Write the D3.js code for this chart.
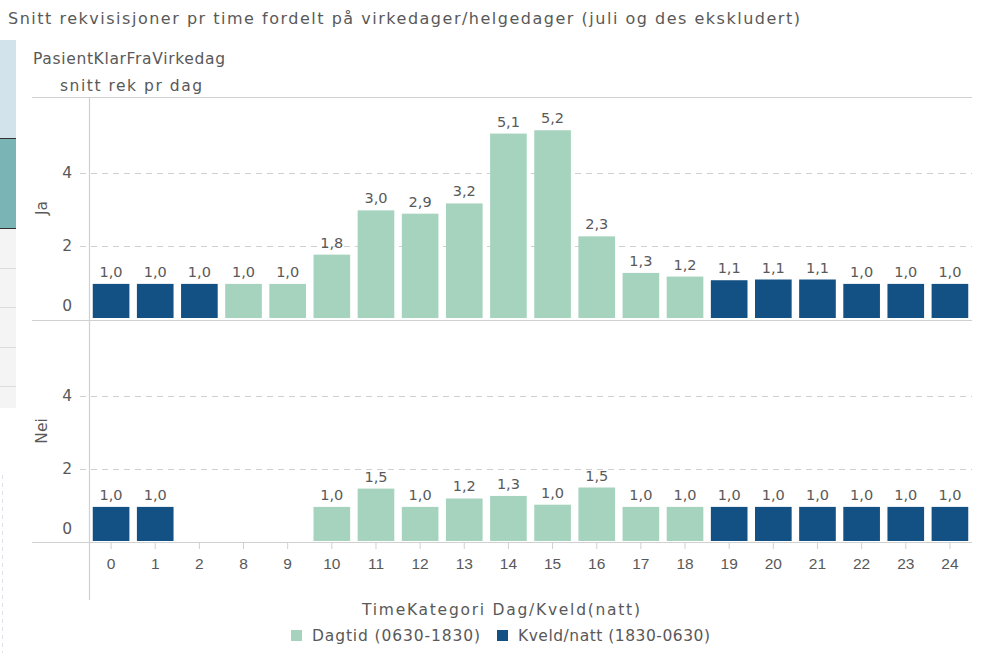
<!DOCTYPE html>
<html>
<head>
<meta charset="utf-8">
<script src="https://cdn.jsdelivr.net/npm/d3@7"></script>
<style>
  html, body { margin: 0; padding: 0; background: #fff; }
  svg { display: block; font-family: "DejaVu Sans", "Open Sans", sans-serif; }
</style>
</head>
<body>
<svg id="chart" width="983" height="653"></svg>
<script>
// hours shown on the x axis (3-7 missing in source)
const hours = ["0", "1", "2", "8", "9", "10", "11", "12", "13", "14", "15", "16", "17", "18", "19", "20", "21", "22", "23", "24"];
// category per hour: "dag" = Dagtid, "kveld" = Kveld/natt
const hourCategory = ["kveld", "kveld", "kveld", "dag", "dag", "dag", "dag", "dag", "dag", "dag", "dag", "dag", "dag", "dag", "kveld", "kveld", "kveld", "kveld", "kveld", "kveld"];

// snitt rek pr dag, PasientKlarFraVirkedag = Ja
const valuesJa = [0.96, 0.96, 0.96, 0.96, 0.96, 1.76, 2.97, 2.88, 3.16, 5.07, 5.16, 2.26, 1.26, 1.16, 1.06, 1.08, 1.08, 0.96, 0.96, 0.96];
// PasientKlarFraVirkedag = Nei (null = no data)
const valuesNei = [0.96, 0.96, null, null, null, 0.96, 1.46, 0.96, 1.19, 1.26, 1.02, 1.49, 0.96, 0.96, 0.96, 0.96, 0.96, 0.96, 0.96, 0.96];

const yTicks = [0, 2, 4];
const panels = [
  { label: "Ja", values: valuesJa },
  { label: "Nei", values: valuesNei },
];

const COLORS = { dag: "#a6d3be", kveld: "#135185" };
const LEGEND = [
  { key: "dag", label: "Dagtid (0630-1830)", len: 168 },
  { key: "kveld", label: "Kveld/natt (1830-0630)", len: 192 },
];

const TEXT = "#595959";
const LINE = "#d0d0d0";

const svg = d3.select("#chart");

// --- left edge fragments of neighbouring UI ---
const side = svg.append("g");
side.append("rect").attr("x", 0).attr("y", 40).attr("width", 16).attr("height", 98).attr("fill", "#d3e3ec");
side.append("rect").attr("x", 0).attr("y", 138).attr("width", 16).attr("height", 91).attr("fill", "#7ab4b5");
side.append("line").attr("x1", 0).attr("x2", 16).attr("y1", 138.5).attr("y2", 138.5).attr("stroke", "#333");
side.append("line").attr("x1", 0).attr("x2", 16).attr("y1", 228.5).attr("y2", 228.5).attr("stroke", "#333");
side.append("rect").attr("x", 0).attr("y", 229).attr("width", 16).attr("height", 179).attr("fill", "#f4f4f4");
[268, 307, 347, 386].forEach(y => {
  side.append("line").attr("x1", 0).attr("x2", 16).attr("y1", y + 0.5).attr("y2", y + 0.5).attr("stroke", "#dcdcdc");
});
side.append("line").attr("x1", 2.5).attr("x2", 2.5).attr("y1", 475).attr("y2", 653)
  .attr("stroke", "#dde3ea").attr("stroke-dasharray", "4,4");

// --- titles ---
svg.append("text").attr("x", 8).attr("y", 24).attr("font-size", 16).attr("fill", TEXT)
  .attr("textLength", 792).attr("lengthAdjust", "spacing")
  .text("Snitt rekvisisjoner pr time fordelt på virkedager/helgedager (juli og des ekskludert)");
svg.append("text").attr("x", 33).attr("y", 64).attr("font-size", 15.5).attr("fill", TEXT)
  .attr("textLength", 192).attr("lengthAdjust", "spacing")
  .text("PasientKlarFraVirkedag");
svg.append("text").attr("x", 60).attr("y", 91).attr("font-size", 15.5).attr("fill", TEXT)
  .attr("textLength", 142).attr("lengthAdjust", "spacing")
  .text("snitt rek pr dag");

// --- scales ---
const plotLeft = 89, plotRight = 972;
const panelTop = [97, 320];
const panelH = 222;

const x = d3.scaleBand().domain(hours).range([plotLeft, plotRight]).paddingInner(0.17).paddingOuter(0.085);
const locale = d3.formatLocale({ decimal: ",", thousands: " ", grouping: [3], currency: ["", " kr"] });
const fmt = locale.format(".1f");

panels.forEach((p, pi) => {
  const top = panelTop[pi];
  const y = d3.scaleLinear().domain([0, 6.07]).range([top + panelH, top]);
  const g = svg.append("g");

  // gridlines
  g.selectAll("line.grid")
    .data(yTicks.filter(t => t > 0))
    .join("line")
    .attr("x1", 80).attr("x2", plotRight)
    .attr("y1", d => Math.round(y(d)) + 0.5).attr("y2", d => Math.round(y(d)) + 0.5)
    .attr("stroke", LINE).attr("stroke-dasharray", "6,5");

  // y tick labels
  g.selectAll("text.ytick")
    .data(yTicks)
    .join("text")
    .attr("x", 72)
    .attr("y", d => (d === 0 ? y(d) - 13 : y(d)))
    .attr("dy", "0.35em")
    .attr("text-anchor", "end")
    .attr("font-size", 15.5)
    .attr("fill", TEXT)
    .text(d => d);

  // row label
  g.append("text")
    .attr("transform", `translate(47,${top + panelH / 2}) rotate(-90)`)
    .attr("text-anchor", "middle")
    .attr("font-size", 15.5)
    .attr("fill", TEXT)
    .text(p.label);

  const data = hours.map((h, i) => ({ h, v: p.values[i], c: hourCategory[i] })).filter(d => d.v != null);

  g.selectAll("rect.bar")
    .data(data)
    .join("rect")
    .attr("x", d => x(d.h))
    .attr("width", x.bandwidth())
    .attr("y", d => y(d.v))
    .attr("height", d => y(0) - y(d.v) - 1)
    .attr("fill", d => COLORS[d.c]);

  g.selectAll("text.val")
    .data(data)
    .join("text")
    .attr("x", d => x(d.h) + x.bandwidth() / 2)
    .attr("y", d => y(d.v) - 7)
    .attr("text-anchor", "middle")
    .attr("font-size", 14.5)
    .attr("fill", TEXT)
    .text(d => fmt(d.v));
});

// frame lines
[97, 320, 542].forEach(yy => {
  svg.append("line").attr("x1", 32).attr("x2", plotRight).attr("y1", yy + 0.5).attr("y2", yy + 0.5).attr("stroke", LINE).attr("stroke-width", 1.2);
});
svg.append("line").attr("x1", plotLeft + 0.5).attr("x2", plotLeft + 0.5).attr("y1", 97).attr("y2", 600).attr("stroke", LINE).attr("stroke-width", 1.2);

// x axis
svg.append("g")
  .attr("transform", `translate(0,${542})`)
  .call(d3.axisBottom(x).tickSize(7).tickPadding(9))
  .call(s => s.select(".domain").remove())
  .call(s => s.selectAll("line").attr("stroke", LINE))
  .call(s => s.selectAll("text").attr("font-size", 15.5).attr("fill", TEXT).attr("font-family", null));

// x axis title + legend
svg.append("text").attr("x", 362).attr("y", 615)
  .attr("font-size", 15.5).attr("fill", TEXT)
  .attr("textLength", 278).attr("lengthAdjust", "spacing")
  .text("TimeKategori Dag/Kveld(natt)");

const legend = svg.append("g");
const legendX = [291, 497];
LEGEND.forEach((it, i) => {
  legend.append("rect").attr("x", legendX[i]).attr("y", 630).attr("width", 11).attr("height", 11).attr("fill", COLORS[it.key]);
  legend.append("text").attr("x", legendX[i] + 21).attr("y", 641).attr("font-size", 15.5).attr("fill", TEXT)
    .attr("textLength", it.len).attr("lengthAdjust", "spacing")
    .text(it.label);
});
</script>
</body>
</html>
